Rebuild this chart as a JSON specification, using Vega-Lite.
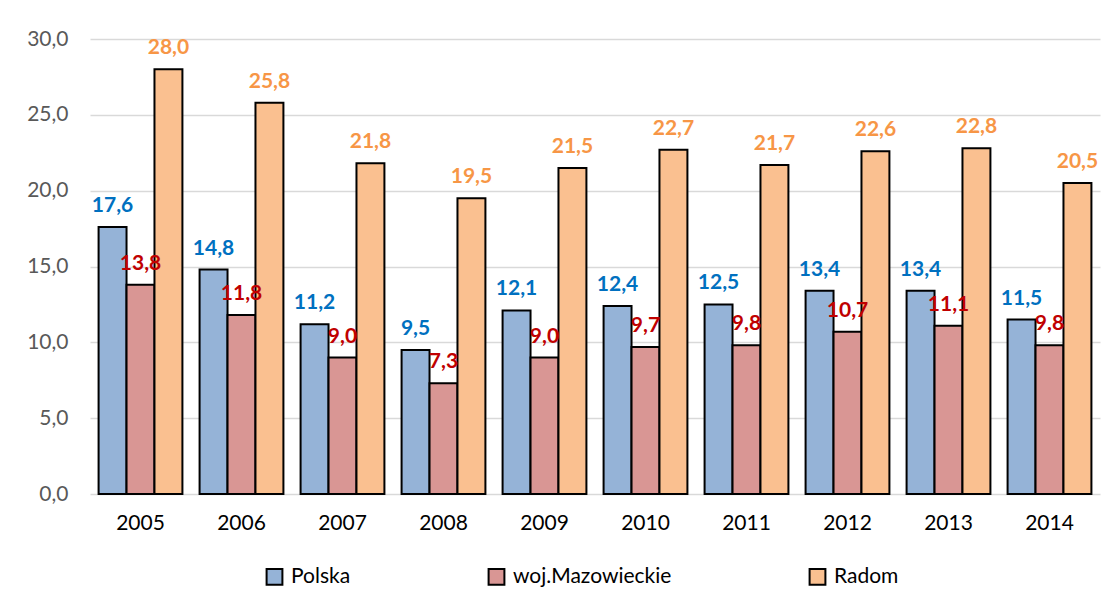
{
  "$schema": "https://vega.github.io/schema/vega-lite/v6.json",
  "width": 1010,
  "height": 455,
  "autosize": {"type": "none"},
  "padding": {"left": 90, "top": 39, "right": 13, "bottom": 115},
  "background": "white",
  "config": {
    "locale": {"number": {"decimal": ",", "thousands": " ", "grouping": [3], "currency": ["", " zł"]}},
    "font": "Lato",
    "view": {"stroke": null}
  },
  "data": {
    "values": [
      {"year": "2005", "series": "Polska", "value": 17.6},
      {"year": "2005", "series": "woj.Mazowieckie", "value": 13.8},
      {"year": "2005", "series": "Radom", "value": 28.0},
      {"year": "2006", "series": "Polska", "value": 14.8},
      {"year": "2006", "series": "woj.Mazowieckie", "value": 11.8},
      {"year": "2006", "series": "Radom", "value": 25.8},
      {"year": "2007", "series": "Polska", "value": 11.2},
      {"year": "2007", "series": "woj.Mazowieckie", "value": 9.0},
      {"year": "2007", "series": "Radom", "value": 21.8},
      {"year": "2008", "series": "Polska", "value": 9.5},
      {"year": "2008", "series": "woj.Mazowieckie", "value": 7.3},
      {"year": "2008", "series": "Radom", "value": 19.5},
      {"year": "2009", "series": "Polska", "value": 12.1},
      {"year": "2009", "series": "woj.Mazowieckie", "value": 9.0},
      {"year": "2009", "series": "Radom", "value": 21.5},
      {"year": "2010", "series": "Polska", "value": 12.4},
      {"year": "2010", "series": "woj.Mazowieckie", "value": 9.7},
      {"year": "2010", "series": "Radom", "value": 22.7},
      {"year": "2011", "series": "Polska", "value": 12.5},
      {"year": "2011", "series": "woj.Mazowieckie", "value": 9.8},
      {"year": "2011", "series": "Radom", "value": 21.7},
      {"year": "2012", "series": "Polska", "value": 13.4},
      {"year": "2012", "series": "woj.Mazowieckie", "value": 10.7},
      {"year": "2012", "series": "Radom", "value": 22.6},
      {"year": "2013", "series": "Polska", "value": 13.4},
      {"year": "2013", "series": "woj.Mazowieckie", "value": 11.1},
      {"year": "2013", "series": "Radom", "value": 22.8},
      {"year": "2014", "series": "Polska", "value": 11.5},
      {"year": "2014", "series": "woj.Mazowieckie", "value": 9.8},
      {"year": "2014", "series": "Radom", "value": 20.5}
    ]
  },
  "encoding": {
    "x": {
      "field": "year", "type": "nominal", "title": null,
      "scale": {"paddingInner": 0.17, "paddingOuter": 0.085},
      "axis": {"labelAngle": 0, "domain": false, "ticks": false, "labelPadding": 18, "labelFontSize": 21, "labelColor": "#000000"}
    },
    "xOffset": {"field": "series", "type": "nominal", "sort": ["Polska", "woj.Mazowieckie", "Radom"], "scale": {"paddingInner": 0, "paddingOuter": 0}},
    "y": {
      "field": "value", "type": "quantitative", "title": null,
      "scale": {"domain": [0, 30], "nice": false},
      "axis": {"values": [0, 5, 10, 15, 20, 25, 30], "format": ".1f", "domain": false, "ticks": false, "labelPadding": 22, "labelFontSize": 21, "labelColor": "#595959", "gridColor": "#D9D9D9", "gridWidth": 1.5}
    }
  },
  "layer": [
    {
      "mark": {"type": "bar", "stroke": "#000000", "strokeWidth": 2},
      "encoding": {
        "color": {
          "field": "series", "type": "nominal",
          "scale": {"domain": ["Polska", "woj.Mazowieckie", "Radom"], "range": ["#95B3D7", "#D99694", "#FAC090"]},
          "legend": {
            "title": null, "orient": "none", "direction": "horizontal",
            "legendX": 174, "legendY": 527,
            "symbolType": "square", "symbolSize": 250, "symbolStrokeColor": "#000000", "symbolStrokeWidth": 2,
            "labelFontSize": 21, "labelColor": "#000000", "columnPadding": 133, "labelOffset": 6
          }
        }
      }
    },
    {
      "mark": {"type": "text", "baseline": "bottom", "dy": -11, "fontSize": 21, "fontWeight": "bold"},
      "encoding": {
        "text": {"field": "value", "type": "quantitative", "format": ".1f"},
        "color": {
          "field": "series", "type": "nominal",
          "scale": {"domain": ["Polska", "woj.Mazowieckie", "Radom"], "range": ["#0070C0", "#C00000", "#F79646"]},
          "legend": null
        }
      }
    }
  ],
  "resolve": {"scale": {"color": "independent"}, "legend": {"color": "independent"}}
}
